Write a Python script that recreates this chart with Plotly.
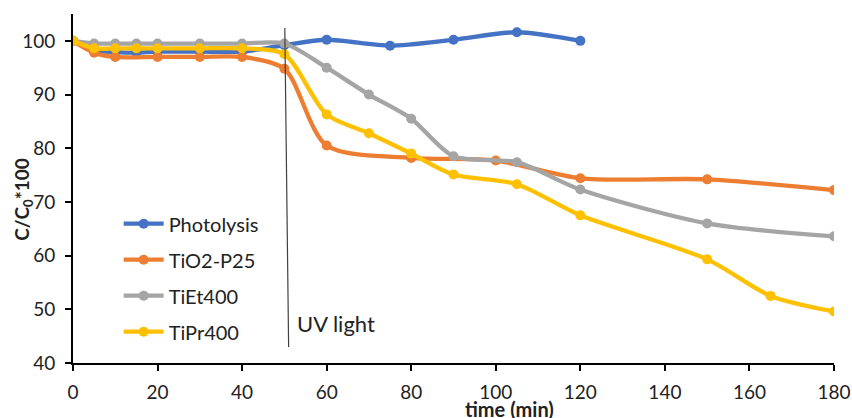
import plotly.graph_objects as go

t_photo = [0, 5, 10, 15, 20, 30, 40, 50, 60, 75, 90, 105, 120]
photolysis = [100, 98.2, 97.9, 97.8, 98.0, 98.0, 98.0, 99.2, 100.2, 99.1, 100.2, 101.6, 100.0]

t_p25 = [0, 5, 10, 20, 30, 40, 50, 60, 80, 100, 120, 150, 180]
tio2_p25 = [100, 97.8, 97.0, 97.0, 97.0, 97.0, 94.8, 80.5, 78.2, 77.7, 74.4, 74.2, 72.2]

t_et = [0, 5, 10, 15, 20, 30, 40, 50, 60, 70, 80, 90, 105, 120, 150, 180]
tiet400 = [100, 99.5, 99.5, 99.5, 99.5, 99.5, 99.5, 99.5, 95.0, 90.0, 85.5, 78.5, 77.4, 72.3, 66.0, 63.6]

t_pr = [0, 5, 10, 15, 20, 30, 40, 50, 60, 70, 80, 90, 105, 120, 150, 165, 180]
tipr400 = [100, 98.6, 98.6, 98.6, 98.6, 98.6, 98.6, 97.5, 86.3, 82.8, 79.0, 75.1, 73.3, 67.5, 59.3, 52.5, 49.6]

series = [
    ("Photolysis", t_photo, photolysis, "#4472C4"),
    ("TiO2-P25", t_p25, tio2_p25, "#ED7D31"),
    ("TiEt400", t_et, tiet400, "#A5A5A5"),
    ("TiPr400", t_pr, tipr400, "#FFC000"),
]

fig = go.Figure()
for i, (name, x, y, c) in enumerate(series):
    fig.add_trace(go.Scatter(
        x=x, y=y, name=name, mode="lines+markers",
        line=dict(color=c, width=4.3, shape="spline", smoothing=0.8),
        marker=dict(color=c, size=10),
        legendgroup=f"g{i}",
    ))

fig.add_shape(type="line", x0=50.1, x1=51.0, y0=102.4, y1=43.0,
              xref="x", yref="y", line=dict(color="#404040", width=1.2))
fig.add_annotation(x=52.4, y=47.4, xref="x", yref="y", text="UV light",
                   showarrow=False, xanchor="left", yanchor="middle",
                   font=dict(size=22, color="#222222"))

# axis titles as annotations (positioned like the reference)
fig.add_annotation(x=-0.066, y=0.47, xref="paper", yref="paper",
                   text="<b>C/C<sub>0</sub>*100</b>", textangle=-90,
                   showarrow=False, xanchor="center", yanchor="middle",
                   font=dict(size=19, color="#222222"))
fig.add_annotation(x=0.574, y=-0.092, xref="paper", yref="paper",
                   text="<b>time (min)</b>", showarrow=False,
                   xanchor="center", yanchor="top",
                   font=dict(size=20, color="#222222"))

font = "Lato, 'Open Sans', sans-serif"
fig.update_layout(
    width=852, height=418,
    margin=dict(l=73, r=18, t=14, b=55, autoexpand=False),
    paper_bgcolor="white", plot_bgcolor="white",
    font=dict(family=font, size=19, color="#222222"),
    showlegend=True,
    legend=dict(x=0.060, y=0.455, xanchor="left", yanchor="top",
                traceorder="grouped", tracegroupgap=7, itemwidth=40,
                font=dict(size=20, color="#222222"),
                bgcolor="rgba(0,0,0,0)"),
    xaxis=dict(range=[0, 180], tickmode="array", tickvals=list(range(0, 181, 20)),
               showline=True, linecolor="black", linewidth=2,
               ticks="outside", ticklen=6, tickwidth=2, tickcolor="black",
               ticklabelstandoff=5,
               showgrid=False, zeroline=False, automargin=False),
    yaxis=dict(range=[40, 105], tickmode="array", tickvals=list(range(40, 101, 10)),
               showline=True, linecolor="black", linewidth=2,
               ticks="outside", ticklen=6, tickwidth=2, tickcolor="black",
               ticklabelstandoff=6,
               showgrid=False, zeroline=False, automargin=False),
)

fig.write_html("out.html")
